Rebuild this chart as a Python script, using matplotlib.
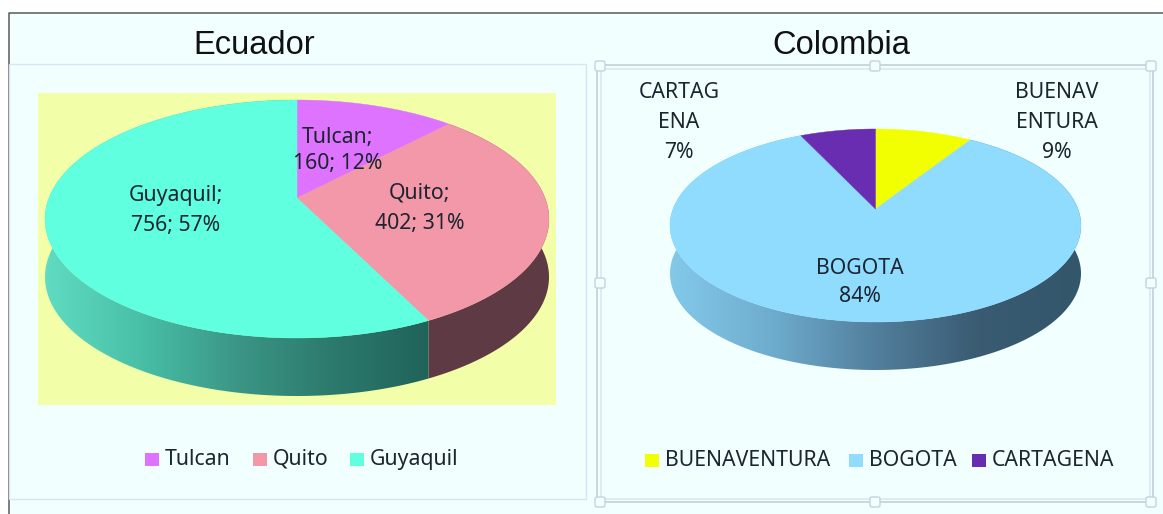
import numpy as np
import matplotlib
matplotlib.use("Agg")
import matplotlib.pyplot as plt
from matplotlib.colors import LinearSegmentedColormap
from matplotlib.patches import Polygon, Rectangle, FancyBboxPatch

# Data
ec_names = ["Tulcan", "Quito", "Guyaquil"]
ec_values = [160, 402, 756]
ec_pcts = [12, 31, 57]
ec_colors = ["#dd73ff", "#f298a8", "#60ffdf"]
co_names = ["BUENAVENTURA", "BOGOTA", "CARTAGENA"]
co_pcts = [9, 84, 7]
co_colors = ["#f2ff00", "#8fdcff", "#682db0"]

BG = "#f2ffff"
EDGE = "#d6e4f5"
FONT = "Noto Sans"
LBL = 15.3
TXT = "#1c2530"

fig = plt.figure(figsize=(11.63, 5.14), dpi=100, facecolor="white")
ax = fig.add_axes([0, 0, 1, 1])
ax.set_xlim(0, 1163)
ax.set_ylim(514, 0)
ax.axis("off")


def rim(th, cx, cy, up, down, half):
    k = (down - up) / (down + up)
    a = up * (1 + k)
    b = half * np.sqrt(1 - k * k)
    X, Y = np.sin(th), np.cos(th)
    d = 1 + k * Y
    return np.column_stack([cx + b * X / d, cy - a * Y / d])


def pie3d(values, colors, walls, cx, cy, up, down, half, depth):
    v = np.asarray(values, float)
    edges = np.concatenate([[0], np.cumsum(v) / v.sum()]) * 2 * np.pi
    for i in range(len(v)):
        th = np.linspace(edges[i], edges[i + 1], 240)
        top = rim(th, cx, cy, up, down, half)
        wall = np.vstack([top, (top + [0, depth])[::-1]])
        if walls[i] is not None:
            cmap = LinearSegmentedColormap.from_list("w", walls[i])
            x0, x1 = wall[:, 0].min(), wall[:, 0].max()
            y0, y1 = wall[:, 1].min(), wall[:, 1].max()
            im = ax.imshow(np.linspace(0, 1, 256)[None, :], cmap=cmap, aspect="auto",
                           extent=[x0, x1, y1, y0], zorder=2)
            im.set_clip_path(Polygon(wall, transform=ax.transData))
    for i in range(len(v)):
        th = np.linspace(edges[i], edges[i + 1], 240)
        top = rim(th, cx, cy, up, down, half)
        ax.add_patch(Polygon(np.vstack([[cx, cy], top]), fc=colors[i], ec=colors[i], lw=0.3, zorder=3))
    ax.set_xlim(0, 1163)
    ax.set_ylim(514, 0)


# Backgrounds and frames
ax.add_patch(Rectangle((9, 13), 1154, 501, fc=BG, ec="none", zorder=0))
ax.plot([9, 9, 1163], [514, 13, 13], color="#5a5a5a", lw=1.1, zorder=1)
ax.add_patch(Rectangle((9, 63.5), 577, 435, fc="none", ec=EDGE, lw=1, zorder=1))
ax.add_patch(Rectangle((38, 93), 518, 312, fc="#f3ffa8", ec="none", zorder=1))

# Selection frame
for d, c in ((0, "#c3cfdc"), (3.5, "#dbe6f2")):
    ax.add_patch(Rectangle((597 + d, 65 + d), 556 - 2 * d, 437 - 2 * d, fc="none", ec=c, lw=1.2, zorder=1))
for hx in (600, 875, 1151):
    for hy in (66, 283, 502):
        if hx == 875 and hy == 283:
            continue
        ax.add_patch(FancyBboxPatch((hx - 4, hy - 4), 8, 8, boxstyle="round,pad=1,rounding_size=2",
                                    fc=BG, ec="#c6d1de", lw=1, zorder=1.5))

# Pies
pie3d(ec_values, ec_colors,
      [None, ["#5e3b44", "#5e3b44"], ["#60dcc2", "#48bfa6", "#3b9686", "#2c7a6d", "#20635a"]],
      297, 198, 98, 140, 252, 58)
pie3d(co_pcts, co_colors,
      [None, ["#84c9ea", "#6eaccd", "#527f9c", "#3a5b72", "#33566a"], None],
      875.5, 209, 80, 113, 205.5, 48)

# Titles
ax.text(254, 45, "Ecuador", fontsize=23.5, family="Liberation Sans", ha="center", va="center", color="#111111", zorder=5)
ax.text(841, 45, "Colombia", fontsize=23.5, family="Liberation Sans", ha="center", va="center", color="#111111", zorder=5)


def label(x, y, s):
    ax.text(x, y, s, fontsize=LBL, family=FONT, ha="center", va="center", color=TXT, zorder=5)


# Data labels
ec_pos = [(338, 137, 338, 164), (420, 193, 420, 223), (176, 196, 176, 226)]
for n, v, p, (x1, y1, x2, y2) in zip(ec_names, ec_values, ec_pcts, ec_pos):
    label(x1, y1, f"{n};")
    label(x2, y2, f"{v}; {p}%")

for x, y, s in ((1057, 93, co_names[0][:6]), (1057, 122, co_names[0][6:]), (1057, 152, f"{co_pcts[0]}%"),
                (860, 268, co_names[1]), (860, 297, f"{co_pcts[1]}%"),
                (679, 93, co_names[2][:6]), (679, 122, co_names[2][6:]), (679, 152, f"{co_pcts[2]}%")):
    label(x, y, s)

# Legends
for names, colors, xs, y in ((ec_names, ec_colors, (145, 253, 350), 459),
                             (co_names, co_colors, (645, 849, 972), 460)):
    for n, c, x in zip(names, colors, xs):
        ax.add_patch(Rectangle((x, y - 6.5), 14, 13, fc=c, ec="none", zorder=5))
        ax.text(x + 20, y + 0.5, n, fontsize=LBL, family=FONT, ha="left", va="center", color=TXT, zorder=5)

fig.savefig("out.png", dpi=100, facecolor="white")
